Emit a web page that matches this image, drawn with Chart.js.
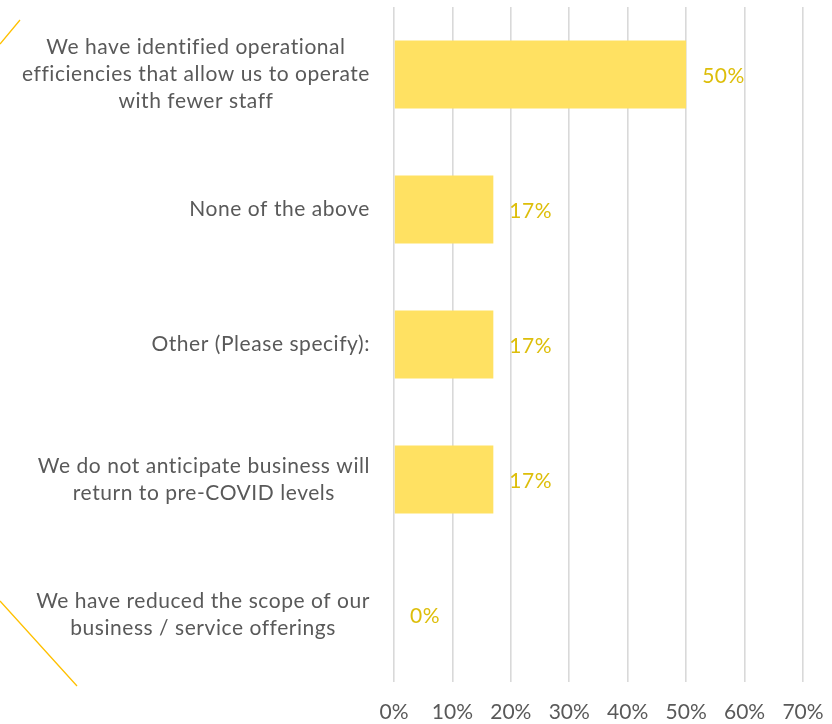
<!DOCTYPE html>
<html>
<head>
<meta charset="utf-8">
<script src="https://cdn.jsdelivr.net/npm/chart.js@4.4.0/dist/chart.umd.min.js"></script>
<style>
  html, body { margin: 0; padding: 0; background: #ffffff; }
  #wrap { width: 832px; height: 724px; position: relative; }
</style>
</head>
<body>
<div id="wrap"><canvas id="barChart"></canvas></div>
<script>
// Survey answers, top to bottom, each split into its display lines
const categories = [
    ['We have identified operational', 'efficiencies that allow us to operate', 'with fewer staff'],
    ['None of the above'],
    ['Other (Please specify):'],
    ['We do not anticipate business will', 'return to pre-COVID levels'],
    ['We have reduced the scope of our', 'business / service offerings']
];
const shares = [0.50, 0.17, 0.17, 0.17, 0.00];
const shareLabels = ['50%', '17%', '17%', '17%', '0%'];
const xTicks = [0, 0.1, 0.2, 0.3, 0.4, 0.5, 0.6, 0.7];

const FONT = 'Lato, "Open Sans", sans-serif';
const TEXT_GREY = '#595959';
const BAR_YELLOW = '#FFE162';
const LABEL_GOLD = '#DDBE0A';

// Category names: lines centred on each other, the block right-aligned to the axis
const categoryText = {
    id: 'categoryText',
    afterDraw(chart) {
        const ctx = chart.ctx;
        const yScale = chart.scales.y;
        const rightEdge = chart.chartArea.left - 24;
        const lineHeight = 27;
        ctx.save();
        ctx.font = '21px ' + FONT;
        ctx.letterSpacing = '0.55px';
        ctx.fillStyle = TEXT_GREY;
        ctx.textBaseline = 'middle';
        ctx.textAlign = 'center';
        categories.forEach((lines, i) => {
            const widest = Math.max(...lines.map(l => ctx.measureText(l).width));
            const cx = rightEdge - widest / 2;
            const cy = yScale.getPixelForTick(i);
            const top = cy - (lines.length - 1) * lineHeight / 2;
            lines.forEach((line, j) => ctx.fillText(line, cx, top + j * lineHeight));
        });
        ctx.restore();
    }
};

// Value labels just past the end of each bar
const valueText = {
    id: 'valueText',
    afterDatasetsDraw(chart) {
        const ctx = chart.ctx;
        const meta = chart.getDatasetMeta(0);
        ctx.save();
        ctx.font = '21px ' + FONT;
        ctx.letterSpacing = '0.5px';
        ctx.fillStyle = LABEL_GOLD;
        ctx.textBaseline = 'middle';
        ctx.textAlign = 'left';
        meta.data.forEach((bar, i) => {
            ctx.fillText(shareLabels[i], bar.x + 16, bar.y + 2);
        });
        ctx.restore();
    }
};

// Thin accent strokes in the left corners
const cornerAccents = {
    id: 'cornerAccents',
    beforeDraw(chart) {
        const ctx = chart.ctx;
        ctx.save();
        ctx.strokeStyle = '#FFC000';
        ctx.lineWidth = 1.3;
        ctx.beginPath();
        ctx.moveTo(0, 44);
        ctx.lineTo(20, 20);
        ctx.moveTo(0, 601);
        ctx.lineTo(77, 686);
        ctx.stroke();
        ctx.restore();
    }
};

const ctx = document.getElementById('barChart').getContext('2d');
window.myChart = new Chart(ctx, {
    type: 'bar',
    data: {
        labels: categories.map(lines => lines.join(' ')),
        datasets: [{
            data: shares,
            backgroundColor: BAR_YELLOW,
            borderWidth: 0,
            barPercentage: 0.505,
            categoryPercentage: 1.0
        }]
    },
    options: {
        indexAxis: 'y',
        responsive: true,
        maintainAspectRatio: false,
        animation: false,
        layout: {
            padding: { top: 7, right: 29, bottom: 0, left: 0 }
        },
        plugins: {
            legend: { display: false },
            tooltip: { enabled: false }
        },
        scales: {
            x: {
                min: 0,
                max: 0.7,
                afterBuildTicks: scale => {
                    scale.ticks = xTicks.map(v => ({ value: v }));
                },
                afterFit: scale => {
                    scale.height = 42;
                    scale.paddingLeft = 0;
                    scale.paddingRight = 0;
                },
                grid: {
                    color: '#D9D9D9',
                    lineWidth: 1.6,
                    drawTicks: false
                },
                border: { display: false },
                ticks: {
                    padding: 18,
                    color: TEXT_GREY,
                    font: { family: FONT, size: 21 },
                    callback: value => Math.round(value * 100) + '%'
                }
            },
            y: {
                grid: { display: false },
                border: { display: false },
                ticks: { display: false },
                afterFit: scale => {
                    scale.width = 394;
                }
            }
        }
    },
    plugins: [categoryText, valueText, cornerAccents]
});
</script>
</body>
</html>
